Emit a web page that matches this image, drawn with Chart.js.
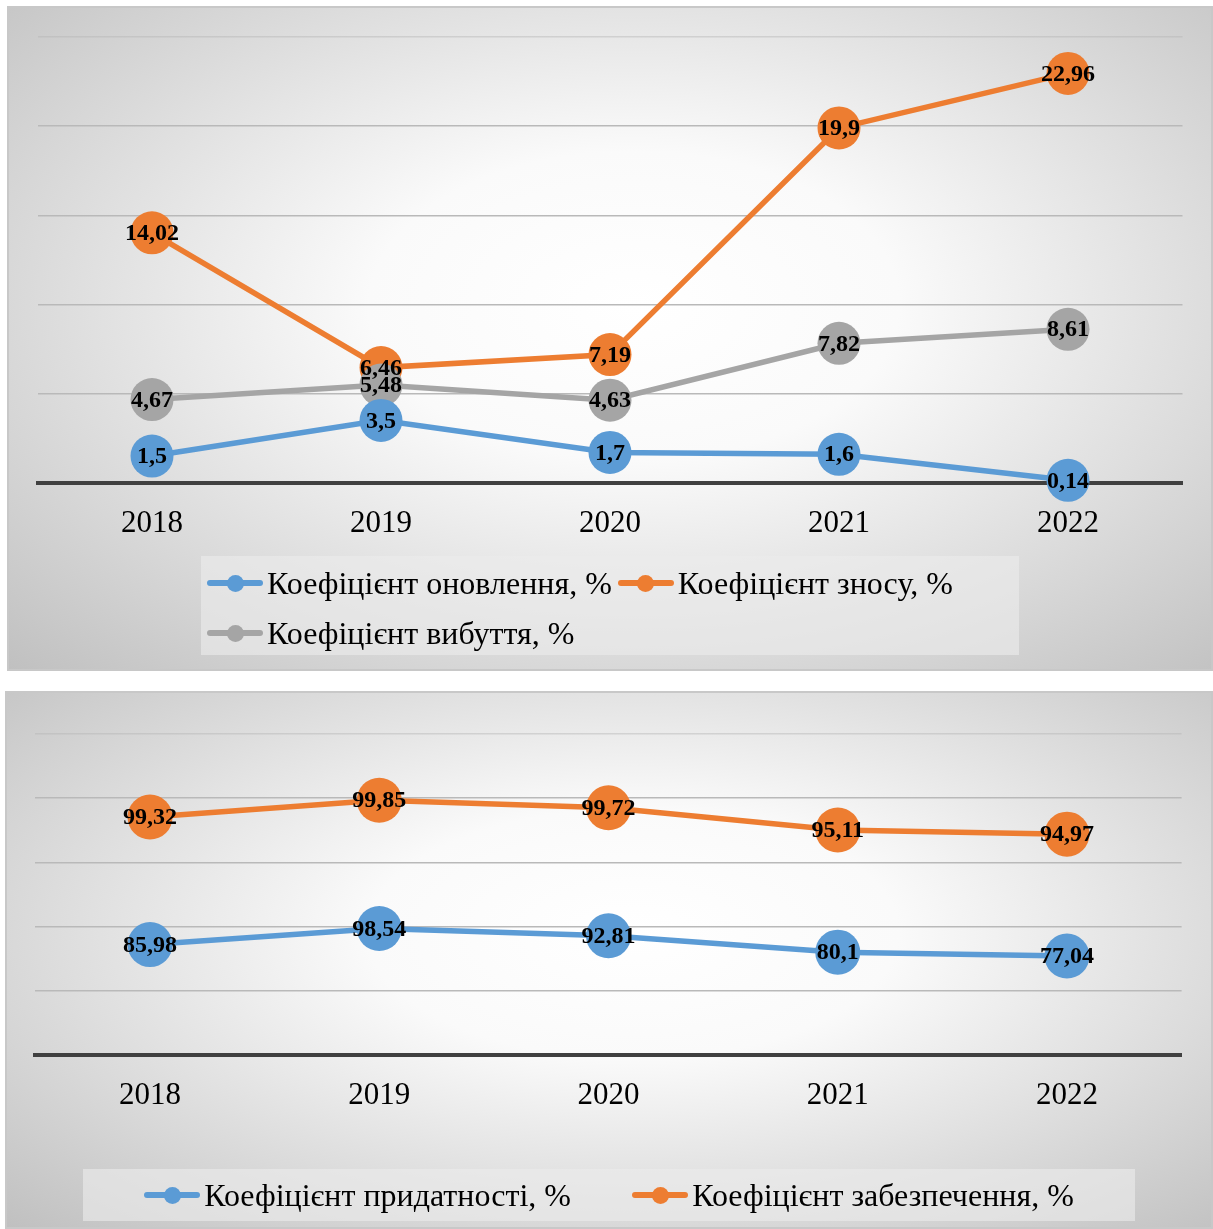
<!DOCTYPE html>
<html lang="uk">
<head>
<meta charset="utf-8">
<title>Коефіцієнти руху та стану основних засобів</title>
<script src="https://cdn.jsdelivr.net/npm/chart.js@4.4.1/dist/chart.umd.min.js"></script>
<style>
  html, body { margin: 0; padding: 0; background: #fff; }
  body { width: 1213px; height: 1229px; position: relative; overflow: hidden;
         font-family: "Liberation Serif", "Times New Roman", serif; }
  .panel { position: absolute; box-sizing: border-box; border: 2px solid #c8c8c8;
           background: radial-gradient(ellipse farthest-corner at 52% 45%, #ffffff 0%, #fafafa 30%, #c0c0c0 100%); }
  .panel canvas { position: absolute; left: 0; top: 0; }
  .legenda { position: absolute; box-sizing: border-box; display: flex; flex-wrap: wrap;
             background: rgba(235, 235, 235, 0.62); }
  .item { display: flex; align-items: center; height: 50px; font-size: 32px; color: #000; white-space: nowrap; }
  .marka { position: relative; width: 56px; height: 17px; margin-right: 4px; flex: none; }
  .marka .liniia { position: absolute; left: 0; right: 0; top: 5.5px; height: 6px; border-radius: 3px; }
  .marka .kolo { position: absolute; left: 19.5px; top: 0; width: 17px; height: 17px; border-radius: 50%; }

  #panel1 { left: 7px; top: 6px; width: 1206px; height: 665px; }
  #legenda1 { left: 192px; top: 548px; width: 818px; height: 99px; padding: 2px 0 0 6px; align-content: flex-start; }
  #legenda1 .item { margin-right: 6px; }

  #panel2 { left: 5px; top: 691px; width: 1208px; height: 538px; }
  #legenda2 { left: 76px; top: 476px; width: 1052px; height: 52px; justify-content: space-evenly; align-items: center; }
</style>
</head>
<body>
<div class="panel" id="panel1">
  <canvas id="grafik1" width="1202" height="661"></canvas>
  <div class="legenda" id="legenda1"></div>
</div>
<div class="panel" id="panel2">
  <canvas id="grafik2" width="1204" height="534"></canvas>
  <div class="legenda" id="legenda2"></div>
</div>

<script>
const roky = ['2018', '2019', '2020', '2021', '2022'];

// верхній графік
const onovlennia = [1.5, 3.5, 1.7, 1.6, 0.14];
const znosu = [14.02, 6.46, 7.19, 19.9, 22.96];
const vybuttia = [4.67, 5.48, 4.63, 7.82, 8.61];

// нижній графік (лінії з накопиченням)
const prydatnosti = [85.98, 98.54, 92.81, 80.1, 77.04];
const zabezpechennia = [99.32, 99.85, 99.72, 95.11, 94.97];

const SYNIY = '#5b9bd5';
const ORANZH = '#ed7d31';
const SIRYI = '#a5a5a5';

Chart.defaults.font.family = '"Liberation Serif", "Times New Roman", serif';
Chart.defaults.color = '#000';

const formatZnach = (v) => String(v).replace('.', ',');

// підписи значень поверх кружечків
const pidpysy = {
  id: 'pidpysy',
  afterDatasetsDraw(chart) {
    const ctx = chart.ctx;
    ctx.save();
    ctx.font = 'bold 24px "Liberation Serif", "Times New Roman", serif';
    ctx.fillStyle = '#000';
    ctx.textAlign = 'center';
    ctx.textBaseline = 'middle';
    chart.data.datasets.forEach((ds, i) => {
      const meta = chart.getDatasetMeta(i);
      meta.data.forEach((pt, j) => {
        ctx.fillText(formatZnach(ds.data[j]), pt.x, pt.y + 1);
      });
    });
    ctx.restore();
  }
};

const seriia = (label, data, kolir, radius, order) => ({
  label,
  data,
  borderColor: kolir,
  backgroundColor: kolir,
  borderWidth: 5.5,
  pointRadius: radius,
  pointHoverRadius: radius,
  pointBorderWidth: 0,
  pointBackgroundColor: kolir,
  tension: 0,
  clip: false,
  order
});

const osi = (maks, krok, stacked) => ({
  x: {
    offset: true,
    grid: { display: false, drawTicks: false },
    border: { display: true, color: '#404040', width: 4 },
    ticks: { font: { size: 31 }, padding: 22, color: '#000' }
  },
  y: {
    min: 0,
    max: maks,
    stacked,
    border: { display: false },
    grid: {
      drawTicks: false,
      lineWidth: 1.5,
      color: (c) => {
        if (c.tick.value === 0) return 'rgba(0,0,0,0)';
        if (c.tick.value === maks) return 'rgba(180,180,180,0.45)';
        return '#b9b9b9';
      }
    },
    ticks: { display: false, stepSize: krok }
  }
});

const legenda = (elId, datasets) => {
  const el = document.getElementById(elId);
  datasets.forEach(ds => {
    const item = document.createElement('div');
    item.className = 'item';
    item.innerHTML = `<span class="marka"><span class="liniia" style="background:${ds.borderColor}"></span>` +
      `<span class="kolo" style="background:${ds.borderColor}"></span></span><span>${ds.label}</span>`;
    el.appendChild(item);
  });
};

const dani1 = [
  seriia('Коефіцієнт оновлення, %', onovlennia, SYNIY, 21.5, 0),
  seriia('Коефіцієнт зносу, %', znosu, ORANZH, 21.5, 2),
  seriia('Коефіцієнт вибуття, %', vybuttia, SIRYI, 21.5, 1)
];

new Chart(document.getElementById('grafik1'), {
  type: 'line',
  data: { labels: roky, datasets: dani1 },
  options: {
    responsive: false,
    animation: false,
    events: [],
    layout: { padding: { left: 28.5, right: 28.5, top: 29, bottom: 105 } },
    plugins: { legend: { display: false }, tooltip: { enabled: false } },
    scales: osi(25, 5, false)
  },
  plugins: [pidpysy]
});
legenda('legenda1', dani1);

const dani2 = [
  seriia('Коефіцієнт придатності, %', prydatnosti, SYNIY, 22.5, 0),
  seriia('Коефіцієнт забезпечення, %', zabezpechennia, ORANZH, 22.5, 0)
];

new Chart(document.getElementById('grafik2'), {
  type: 'line',
  data: { labels: roky, datasets: dani2 },
  options: {
    responsive: false,
    animation: false,
    events: [],
    layout: { padding: { left: 28.4, right: 29.4, top: 41, bottom: 90.8 } },
    plugins: { legend: { display: false }, tooltip: { enabled: false } },
    scales: osi(250, 50, true)
  },
  plugins: [pidpysy]
});
legenda('legenda2', dani2);
</script>
</body>
</html>
